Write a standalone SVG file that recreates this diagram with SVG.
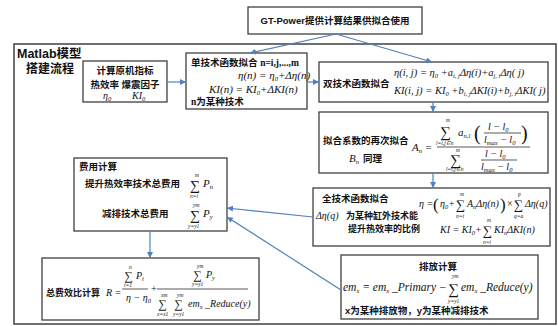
<svg xmlns="http://www.w3.org/2000/svg" width="558" height="326" viewBox="0 0 558 326">
<defs>
<marker id="ah" markerWidth="7" markerHeight="6" refX="6" refY="3" orient="auto" markerUnits="userSpaceOnUse"><path d="M0,0 L6,3 L0,6 Z" fill="#4f81bd"/></marker>
<style>
.bx{fill:#fff;stroke:#404040;stroke-width:1.3}
.c{font-family:"Liberation Sans","Noto Sans CJK SC",sans-serif;font-weight:bold;font-size:9.5px;fill:#111}
.m{font-family:"Liberation Serif","DejaVu Serif",serif;font-style:italic;font-size:11px;fill:#111}
.s{font-size:6.5px}
.sg{font-family:"Liberation Serif","DejaVu Serif",serif;font-size:15px;fill:#111}
.l{font-family:"Liberation Serif",serif;font-style:italic;font-size:5.5px;fill:#111}
.fl{stroke:#111;stroke-width:0.7}
.cn{stroke:#4f81bd;stroke-width:1.2;fill:none;marker-end:url(#ah)}
</style>
</defs>
<rect width="558" height="326" fill="#fff"/>

<g id="n-gt">
<rect class="bx" x="248" y="7" width="174" height="27"/>
<text class="c" x="335" y="24" text-anchor="middle">GT-Power提供计算结果供拟合使用</text>
</g>

<g id="n-matlab">
<rect x="14" y="44" width="542" height="280" fill="none" stroke="#404040" stroke-width="1.5"/>
<text class="c" x="17" y="58" style="font-size:12.5px">Matlab模型</text>
<text class="c" x="26" y="73" style="font-size:12px">搭建流程</text>
</g>

<g id="n-orig">
<rect class="bx" x="83" y="61" width="84" height="41"/>
<text class="c" x="125" y="74" text-anchor="middle">计算原机指标</text>
<text class="c" x="125" y="88" text-anchor="middle">热效率 爆震因子</text>
<text class="m" x="103" y="99" style="font-size:10px">η<tspan class="s" dy="2">0</tspan></text>
<text class="m" x="132" y="99" style="font-size:10px">KI<tspan class="s" dy="2">0</tspan></text>
</g>

<g id="n-single">
<rect class="bx" x="186" y="53" width="121" height="56"/>
<text class="c" x="191" y="66">单技术函数拟合 <tspan style="font-family:'Liberation Serif',serif">n=i,j,...,m</tspan></text>
<text class="m" x="238" y="79">η(n) = η<tspan class="s" dy="2">0</tspan><tspan dy="-2">+Δη(n)</tspan></text>
<text class="m" x="209" y="93">KI(n) = KI<tspan class="s" dy="2">0</tspan><tspan dy="-2">+ΔKI(n)</tspan></text>
<text class="c" x="191" y="105"><tspan style="font-family:'Liberation Serif',serif">n</tspan>为某种技术</text>
</g>

<g id="n-double">
<rect class="bx" x="319" y="62" width="229" height="40"/>
<text class="c" x="323" y="87">双技术函数拟合</text>
<text class="m" x="394" y="76" style="font-size:10.5px">η(i, j) = η<tspan class="s" dy="2">0</tspan><tspan dy="-2"> +a</tspan><tspan class="s" dy="2">i, j</tspan><tspan dy="-2">Δη(i)+a</tspan><tspan class="s" dy="2">j, i</tspan><tspan dy="-2">Δη( j)</tspan></text>
<text class="m" x="394" y="94" style="font-size:10.5px">KI(i, j) = KI<tspan class="s" dy="2">0</tspan><tspan dy="-2"> +b</tspan><tspan class="s" dy="2">i, j</tspan><tspan dy="-2">ΔKI(i)+b</tspan><tspan class="s" dy="2">j, i</tspan><tspan dy="-2">ΔKI( j)</tspan></text>
</g>

<g id="n-refit">
<rect class="bx" x="319" y="112" width="229" height="61"/>
<text class="c" x="323" y="144">拟合系数的再次拟合</text>
<text class="m" x="349" y="162">B<tspan class="s" dy="2">n</tspan><tspan class="c" dy="-2" dx="4" style="font-style:normal">同理</tspan></text>
<text class="m" x="412" y="151">A<tspan class="s" dy="2">n</tspan><tspan dy="-2"> =</tspan></text>
<text class="sg" x="440" y="137">∑</text>
<text class="l" x="446" y="122">m</text>
<text class="l" x="436" y="145">l=i,j∈n</text>
<text class="m" x="458" y="136">a<tspan class="s" dy="2">n,l</tspan></text>
<text class="sg" x="474" y="140" style="font-size:20px">(</text>
<text class="m" x="488" y="130" style="font-size:10px">l − l<tspan class="s" dy="2">0</tspan></text>
<line class="fl" x1="484" y1="133" x2="521" y2="133"/>
<text class="m" x="484" y="143" style="font-size:10px">l<tspan class="s" dy="2">max</tspan><tspan dy="-2"> − l</tspan><tspan class="s" dy="2">0</tspan></text>
<text class="sg" x="521" y="140" style="font-size:20px">)</text>
<line class="fl" x1="437" y1="147" x2="530" y2="147"/>
<text class="sg" x="450" y="165">∑</text>
<text class="l" x="456" y="152">m</text>
<text class="l" x="446" y="171">l=i,j∈n</text>
<text class="m" x="485" y="157" style="font-size:10px">l − l<tspan class="s" dy="2">0</tspan></text>
<line class="fl" x1="481" y1="160" x2="517" y2="160"/>
<text class="m" x="481" y="170" style="font-size:10px">l<tspan class="s" dy="2">max</tspan><tspan dy="-2"> − l</tspan><tspan class="s" dy="2">0</tspan></text>
</g>

<g id="n-full">
<rect class="bx" x="313" y="188" width="237" height="58"/>
<text class="c" x="322" y="202">全技术函数拟合</text>
<text class="m" x="316" y="219" style="font-size:10px">Δη(q)</text>
<text class="c" x="346" y="219" style="font-size:9px">为某种缸外技术能</text>
<text class="c" x="348" y="232" style="font-size:9px">提升热效率的比例</text>
<text class="m" x="419" y="207" style="font-size:10px">η =</text>
<text class="sg" x="433" y="210" style="font-size:17px">(</text>
<text class="m" x="440" y="207" style="font-size:10px">η<tspan class="s" dy="2">0</tspan><tspan dy="-2">+</tspan></text>
<text class="sg" x="456" y="209" style="font-size:13px">∑</text>
<text class="l" x="460" y="196">m</text>
<text class="l" x="456" y="218">n=i</text>
<text class="m" x="467" y="207" style="font-size:10px">A<tspan class="s" dy="2">n</tspan><tspan dy="-2">Δη(n)</tspan></text>
<text class="sg" x="500" y="210" style="font-size:17px">)</text>
<text class="sg" x="507" y="207" style="font-size:10px">×</text>
<text class="sg" x="514" y="209" style="font-size:13px">∑</text>
<text class="l" x="518" y="196">p</text>
<text class="l" x="514" y="218">q=a</text>
<text class="m" x="525" y="207" style="font-size:10px">Δη(q)</text>
<text class="m" x="440" y="233" style="font-size:10px">KI = KI<tspan class="s" dy="2">0</tspan><tspan dy="-2">+</tspan></text>
<text class="sg" x="483" y="235" style="font-size:13px">∑</text>
<text class="l" x="487" y="222">m</text>
<text class="l" x="483" y="244">n=i</text>
<text class="m" x="494" y="233" style="font-size:10px">KI<tspan class="s" dy="2">n</tspan><tspan dy="-2">ΔKI(n)</tspan></text>
</g>

<g id="n-cost">
<rect class="bx" x="74" y="158" width="153" height="73"/>
<text class="c" x="79" y="170">费用计算</text>
<text class="c" x="85" y="187">提升热效率技术总费用</text>
<text class="sg" x="190" y="190" style="font-size:14px">∑</text>
<text class="l" x="195" y="177">m</text>
<text class="l" x="190" y="198">n=i</text>
<text class="m" x="203" y="187">P<tspan class="s" dy="2">n</tspan></text>
<text class="c" x="102" y="217">减排技术总费用</text>
<text class="sg" x="190" y="220" style="font-size:14px">∑</text>
<text class="l" x="193" y="207">ym</text>
<text class="l" x="188" y="228">y=y1</text>
<text class="m" x="203" y="217">P<tspan class="s" dy="2">y</tspan></text>
</g>

<g id="n-total">
<rect class="bx" x="42" y="258" width="217" height="62"/>
<text class="c" x="46" y="296" style="font-size:9px">总费效比计算</text>
<text class="m" x="106" y="296" style="font-size:10px">R =</text>
<text class="sg" x="124" y="280" style="font-size:12px">∑</text>
<text class="l" x="129" y="269">n</text>
<text class="l" x="124" y="287">i=1</text>
<text class="m" x="136" y="279" style="font-size:10px">P<tspan class="s" dy="2">i</tspan></text>
<line class="fl" x1="122" y1="289" x2="148" y2="289"/>
<text class="m" x="126" y="301" style="font-size:10px">η − η<tspan class="s" dy="2">0</tspan></text>
<text class="sg" x="151" y="292" style="font-size:10px">+</text>
<text class="sg" x="193" y="279" style="font-size:12px">∑</text>
<text class="l" x="197" y="268">ym</text>
<text class="l" x="192" y="286">y=y1</text>
<text class="m" x="206" y="278" style="font-size:10px">P<tspan class="s" dy="2">y</tspan></text>
<line class="fl" x1="157" y1="289" x2="248" y2="289"/>
<text class="sg" x="158" y="308" style="font-size:12px">∑</text>
<text class="l" x="161" y="297">xm</text>
<text class="l" x="157" y="316">x=x1</text>
<text class="sg" x="174" y="308" style="font-size:12px">∑</text>
<text class="l" x="177" y="297">ym</text>
<text class="l" x="173" y="316">y=y1</text>
<text class="m" x="188" y="307" style="font-size:10px">em<tspan class="s" dy="2">x</tspan><tspan dy="-2"> _Reduce(y)</tspan></text>
</g>

<g id="n-emission">
<rect class="bx" x="341" y="255" width="197" height="64"/>
<text class="c" x="438" y="270" text-anchor="middle">排放计算</text>
<text class="m" x="343" y="291" style="font-size:11.5px">em<tspan class="s" dy="2">x</tspan><tspan dy="-2"> = em</tspan><tspan class="s" dy="2">x</tspan><tspan dy="-2"> _Primary −</tspan></text>
<text class="sg" x="448" y="294">∑</text>
<text class="l" x="452" y="278">ym</text>
<text class="l" x="448" y="303">y=y1</text>
<text class="m" x="461" y="291" style="font-size:11.5px">em<tspan class="s" dy="2">x</tspan><tspan dy="-2"> _Reduce(y)</tspan></text>
<text class="c" x="345" y="314">x为某种排放物，y为某种减排技术</text>
</g>

<g id="connectors">
<path class="cn" d="M336,34 L250,53"/>
<path class="cn" d="M336,34 L432,62"/>
<path class="cn" d="M167,82 L186,82"/>
<path class="cn" d="M307,82 L319,82"/>
<path class="cn" d="M433,102 L433,112"/>
<path class="cn" d="M433,173 L433,188"/>
<path class="cn" d="M313,217 L227,208"/>
<path class="cn" d="M341,290 L227,217"/>
<path class="cn" d="M150,231 L150,258"/>
</g>
</svg>
